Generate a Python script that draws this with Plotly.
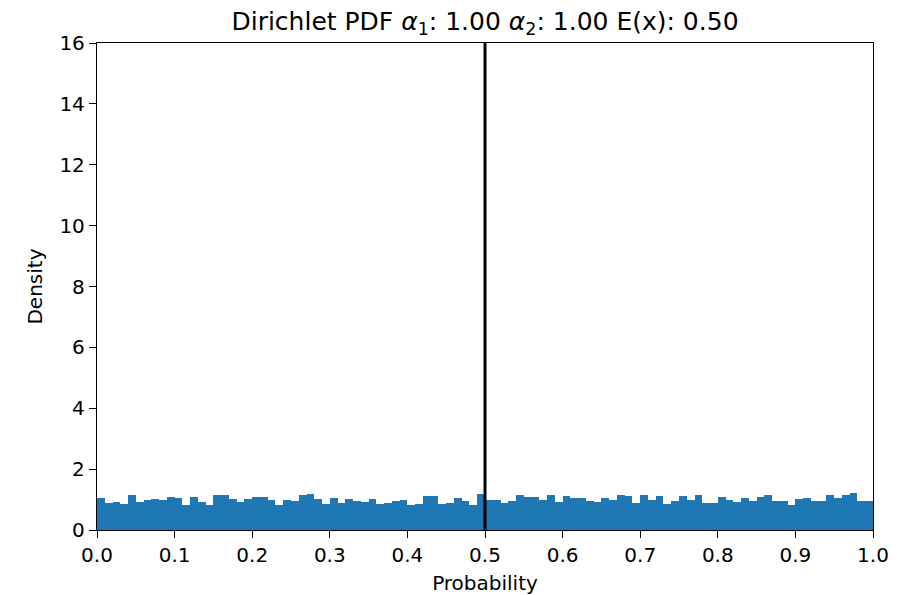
import plotly.graph_objects as go

# Dirichlet parameters
alpha_1 = 1.00
alpha_2 = 1.00
expected_x = alpha_1 / (alpha_1 + alpha_2)

# Histogram of sampled probabilities: 100 equal bins on [0, 1]
bin_edges_start = 0.0
bin_width = 0.01
density = [
    1.05, 0.88, 0.91, 0.85, 1.15, 0.93, 0.97, 1.02, 0.97, 1.10,
    1.05, 0.81, 1.10, 0.91, 0.81, 1.14, 1.14, 1.02, 0.93, 1.03,
    1.07, 1.10, 1.00, 0.81, 1.00, 0.95, 1.14, 1.19, 1.02, 0.85,
    1.05, 0.88, 1.03, 0.95, 0.93, 1.02, 0.85, 0.90, 0.95, 1.00,
    0.83, 0.85, 1.12, 1.12, 0.85, 0.88, 1.05, 0.95, 0.83, 1.17,
    0.99, 1.00, 0.89, 0.95, 1.14, 1.08, 1.10, 1.00, 1.15, 0.93,
    1.13, 1.05, 1.05, 0.95, 0.91, 1.05, 1.00, 1.14, 1.12, 0.88,
    1.15, 0.97, 1.12, 0.85, 0.95, 1.12, 1.00, 1.14, 0.90, 0.90,
    1.10, 1.00, 0.93, 1.05, 0.95, 1.08, 1.14, 0.95, 0.95, 0.83,
    1.03, 1.05, 0.95, 0.95, 1.15, 1.05, 1.14, 1.23, 0.95, 0.95,
]
bin_centers = [bin_edges_start + bin_width * (i + 0.5) for i in range(len(density))]

x_ticks = [round(0.1 * i, 1) for i in range(11)]
y_ticks = list(range(0, 17, 2))
y_max = 16

font_family = "DejaVu Sans"
tick_size = 20

fig = go.Figure()
fig.add_trace(go.Bar(
    x=bin_centers,
    y=density,
    width=bin_width,
    marker=dict(color="#1f77b4", line=dict(width=0)),
    showlegend=False,
    hoverinfo="skip",
))
fig.add_trace(go.Scatter(
    x=[expected_x, expected_x],
    y=[0, y_max],
    mode="lines",
    line=dict(color="black", width=3),
    showlegend=False,
    hoverinfo="skip",
))

title_text = (
    f"Dirichlet PDF <i>α</i><sub>1</sub>: {alpha_1:.2f} "
    f"<i>α</i><sub>2</sub>: {alpha_2:.2f} E(x): {expected_x:.2f}"
)

axis_common = dict(
    showline=True,
    linecolor="black",
    linewidth=1.3,
    mirror=True,
    ticks="outside",
    ticklen=7,
    tickwidth=1.3,
    tickcolor="black",
    showgrid=False,
    zeroline=False,
    automargin=False,
    tickfont=dict(family=font_family, size=tick_size, color="black"),
)

fig.update_layout(
    width=907,
    height=595,
    margin=dict(l=97, r=34, t=43, b=65),
    paper_bgcolor="white",
    plot_bgcolor="white",
    bargap=0,
    font=dict(family=font_family, color="black"),
    title=dict(
        text=title_text,
        x=0.5,
        xref="paper",
        xanchor="center",
        y=1 - 21 / 595,
        yref="container",
        yanchor="middle",
        font=dict(family=font_family, size=25, color="black"),
    ),
    xaxis=dict(
        range=[0, 1],
        tickvals=x_ticks,
        tickformat=".1f",
        title=dict(text="Probability", font=dict(family=font_family, size=20), standoff=9),
        **axis_common,
    ),
    yaxis=dict(
        range=[0, y_max],
        tickvals=y_ticks,
        title=dict(text="Density", font=dict(family=font_family, size=20), standoff=11),
        **axis_common,
    ),
)

fig.write_html("out.html")
